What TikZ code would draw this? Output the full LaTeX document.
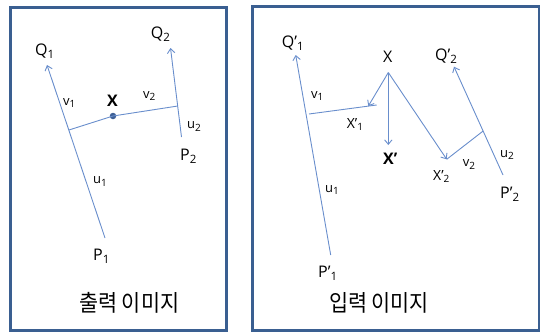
\documentclass[tikz,border=0pt]{standalone}
\usepackage{fontspec}
\usepackage{graphicx}
\setmainfont{Open Sans}
\newfontfamily\kr{Noto Sans CJK KR}
\usetikzlibrary{arrows.meta,calc}
\definecolor{framecol}{RGB}{58,95,145}
\definecolor{linecol}{RGB}{105,142,204}
\definecolor{dotcol}{RGB}{62,96,150}
\newcommand{\bsub}[1]{\raisebox{-3pt}{\fontsize{11.5}{12}\selectfont #1}}
\newcommand{\ssub}[1]{\raisebox{-2.5pt}{\fontsize{10}{11}\selectfont #1}}
\begin{document}
\begin{tikzpicture}[x=1pt,y=-1pt,
  frame/.style={draw=framecol,line width=2.7pt},
  ln/.style={draw=linecol,line width=0.9pt},
  arr/.style={ln,-{Straight Barb[length=4.5pt,width=7.5pt]}},
  big/.style={font=\fontsize{16}{18}\selectfont,inner sep=0pt,anchor=base west},
  small/.style={font=\fontsize{13}{15}\selectfont,inner sep=0pt,anchor=base west},
  title/.style={font=\kr\fontsize{23}{25}\selectfont,inner sep=0pt},
  dot/.style={circle,fill=dotcol,inner sep=0pt,minimum size=6.5pt}]
\useasboundingbox (0,0) rectangle (543,332);
% frames
\draw[frame] (10.3,7.3) rectangle (226.5,330.3);
\draw[frame] (252.5,6.5) rectangle (539,330.3);

% ---------- left panel ----------
\coordinate (lP1) at (105,238);
\coordinate (lQ1) at (47,65);
\coordinate (lf1) at ($(lP1)!0.624!(lQ1)$);
\coordinate (lP2) at (181.5,137);
\coordinate (lQ2) at (170.5,48);
\coordinate (lf2) at ($(lP2)!0.348!(lQ2)$);
\node[dot] (lX) at (113,116) {};
\draw[arr] (lP1) -- (lQ1);
\draw[arr] (lP2) -- (lQ2);
\draw[ln] (lf1) -- (lX.center) -- (lf2);

\node[big] (tQ1) at (35,55) {Q\bsub{1}};
\node[big] (tQ2) at (150.7,38.5) {Q\bsub{2}};
\node[small] (tv1) at (63,105) {v\ssub{1}};
\node[small] (tv2) at (143,98.3) {v\ssub{2}};
\node[big,font=\fontsize{16}{18}\selectfont\bfseries] (tX) at (107,106.7) {X};
\node[small] (tu2) at (187,128.5) {u\ssub{2}};
\node[big] (tP2) at (180,160) {P\bsub{2}};
\node[small] (tu1) at (93,183.5) {u\ssub{1}};
\node[big] (tP1) at (93,260) {P\bsub{1}};
\node[title] (tout) at (129.2,302.5) {\scalebox{0.9}[1]{출력 이미지}};

% ---------- right panel ----------
\coordinate (rP1) at (330.7,255);
\coordinate (rQ1) at (295.7,55);
\coordinate (rv1s) at (309,114);
\coordinate (rX1) at (376.7,105);
\coordinate (rX1t) at ($(rv1s)!0.876!(rX1)$);
\coordinate (rXs) at (388.3,72.5);
\coordinate (rXpt) at (388.3,145);
\coordinate (rX2t) at (446.7,159.3);
\coordinate (rP2) at (503,175);
\coordinate (rQ2) at (454,66.7);
\coordinate (rf2) at ($(rP2)!0.406!(rQ2)$);
\draw[arr] (rP1) -- (rQ1);
\draw[ln] (rv1s) -- (rX1);
\draw[arr] (rXs) -- (rX1t);
\draw[arr] (rXs) -- (rXpt);
\draw[arr] (rXs) -- (rX2t);
\draw[ln] (rX2t) -- (rf2);
\draw[arr] (rP2) -- (rQ2);

\node[big] (sQ1) at (281.7,47.5) {Q’\bsub{1}};
\node[small] (sv1) at (311,98.3) {v\ssub{1}};
\node[big] (sX) at (383,62) {X};
\node[big,font=\fontsize{14}{16}\selectfont] (sX1) at (346.7,128.3) {X’\ssub{1}};
\node[big,font=\fontsize{16}{18}\selectfont\bfseries] (sXp) at (383,164) {X’};
\node[big,font=\fontsize{14}{16}\selectfont] (sX2) at (433,180) {X’\ssub{2}};
\node[small] (sv2) at (462.7,166.7) {v\ssub{2}};
\node[big] (sQ2) at (435,60) {Q’\bsub{2}};
\node[small] (su2) at (500,157) {u\ssub{2}};
\node[big] (sP2) at (500,198.3) {P’\bsub{2}};
\node[small] (su1) at (325,192) {u\ssub{1}};
\node[big] (sP1) at (318,277) {P’\bsub{1}};
\node[title] (tin) at (379,302.5) {\scalebox{0.9}[1]{입력 이미지}};
\end{tikzpicture}
\end{document}
